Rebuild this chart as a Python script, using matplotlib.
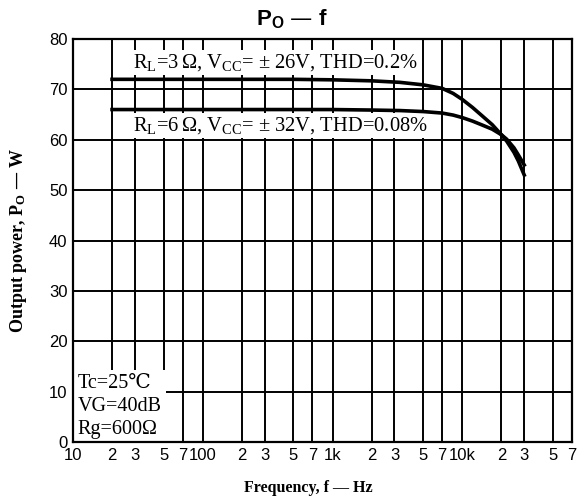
import matplotlib
matplotlib.use('Agg')
import matplotlib.pyplot as plt
import numpy as np

# curve data
freq_3ohm = [20, 100, 500, 1000, 2000, 3300, 5000, 7000, 8500, 10000, 12000,
             14000, 17000, 20000, 22000, 25000, 27000, 30000]
po_3ohm = [72.0, 72.0, 72.0, 71.9, 71.7, 71.4, 70.9, 70.2, 69.2, 68.0, 66.4,
           64.9, 63.0, 61.0, 59.7, 57.5, 55.8, 53.0]

freq_6ohm = [20, 100, 500, 1000, 2000, 3300, 5000, 7000, 8500, 10000, 12000,
             14000, 17000, 20000, 22000, 25000, 27000, 30000]
po_6ohm = [66.0, 66.0, 66.0, 66.0, 65.9, 65.8, 65.6, 65.3, 64.9, 64.4, 63.7,
           63.0, 62.1, 61.0, 60.1, 58.4, 57.0, 55.0]

major_x = [10, 100, 1000, 10000]
major_x_labels = ['10', '100', '1k', '10k']
minor_x = [20, 30, 50, 70, 200, 300, 500, 700, 2000, 3000, 5000, 7000,
           20000, 30000, 50000, 70000]
minor_x_labels = ['2', '3', '5', '7'] * 4
y_ticks = [0, 10, 20, 30, 40, 50, 60, 70, 80]

serif = ['Liberation Serif', 'DejaVu Serif']
narrow = ['Liberation Sans Narrow', 'Liberation Sans', 'DejaVu Sans']
plt.rcParams['mathtext.default'] = 'regular'

fig = plt.figure(figsize=(5.81, 4.99), dpi=100)
ax = fig.add_axes([0.1256, 0.1142, 0.8589, 0.8076])

ax.set_xscale('log')
ax.set_xlim(10, 70000)
ax.set_ylim(0, 80)

# grid
for x in minor_x + major_x[1:]:
    ax.axvline(x, color='black', lw=1.4, zorder=1)
for y in y_ticks[1:-1]:
    ax.axhline(y, color='black', lw=1.4, zorder=1)

ax.plot(freq_3ohm, po_3ohm, color='black', lw=2.6, zorder=3)
ax.plot(freq_6ohm, po_6ohm, color='black', lw=2.6, zorder=3)

for s in ax.spines.values():
    s.set_linewidth(1.6)

ax.set_xticks(major_x)
ax.set_xticklabels(major_x_labels)
ax.set_xticks(minor_x, minor=True)
ax.set_xticklabels(minor_x_labels, minor=True)
ax.set_yticks(y_ticks)
ax.tick_params(axis='both', which='both', length=0, pad=4)
for lab in ax.get_xticklabels(which='both') + ax.get_yticklabels():
    lab.set_family(narrow)
    lab.set_fontsize(12)

ax.text(29, 75.4, r'R$_\mathregular{L}$=3$\,\Omega$, V$_\mathregular{CC}$= $\pm$ 26V, THD=0.2%',
        family=serif, fontsize=14.8, va='center', ha='left', zorder=2,
        bbox=dict(facecolor='white', edgecolor='none', pad=1.5))
ax.text(29, 62.8, r'R$_\mathregular{L}$=6$\,\Omega$, V$_\mathregular{CC}$= $\pm$ 32V, THD=0.08%',
        family=serif, fontsize=14.8, va='center', ha='left', zorder=2,
        bbox=dict(facecolor='white', edgecolor='none', pad=1.5))
ax.text(10.8, 0.6, 'Tc=25℃\nVG=40dB\nRg=600Ω', family=serif, fontsize=14.5,
        va='bottom', ha='left', linespacing=1.27, zorder=2,
        bbox=dict(facecolor='white', edgecolor='none', pad=3))

fig.text(0.503, 0.962, r'P$_\mathregular{O}$ — f', ha='center', va='center',
         fontsize=16, fontweight='bold', family=['Liberation Sans', 'DejaVu Sans'])
ax.set_xlabel('Frequency, f — Hz', family=serif, fontsize=11.5, fontweight='bold')
ax.xaxis.set_label_coords(0.471, -0.095)
ax.set_ylabel(r'Output power, P$_\mathregular{O}$ — W', family=serif, fontsize=13,
              fontweight='bold', labelpad=14)

fig.savefig('out.png', dpi=100)
